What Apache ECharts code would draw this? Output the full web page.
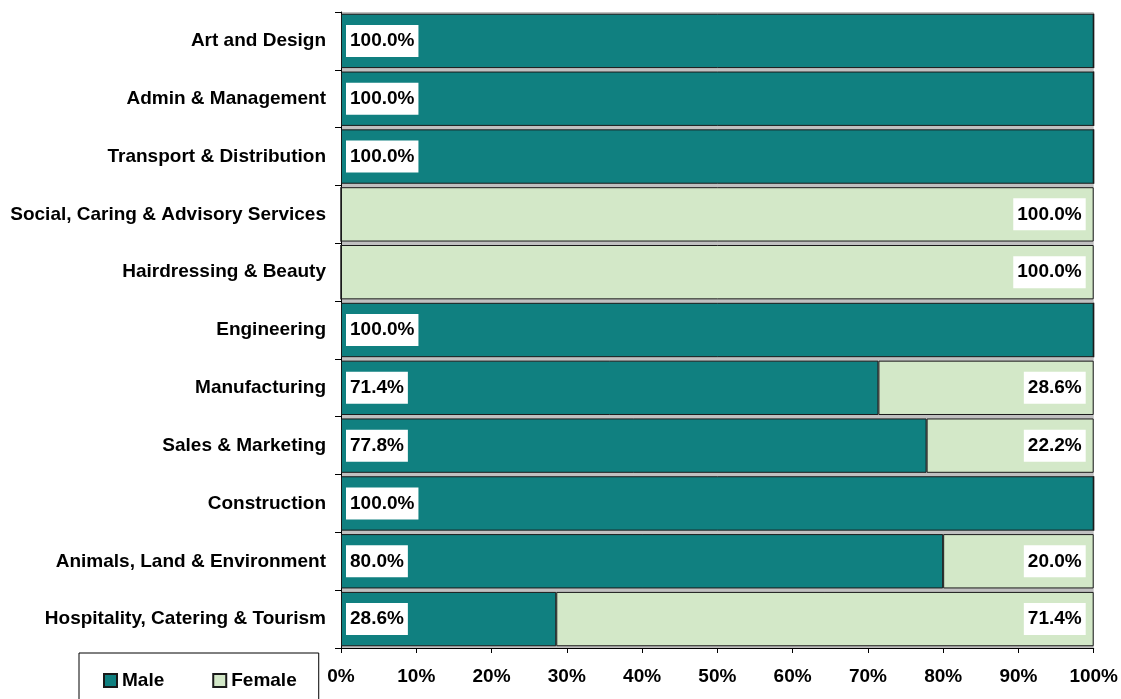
<!DOCTYPE html>
<html>
<head>
<meta charset="utf-8">
<script src="https://cdn.jsdelivr.net/npm/echarts@6/dist/echarts.min.js"></script>
<style>
  html, body { margin: 0; padding: 0; background: #fff; }
  #main { width: 1121px; height: 699px; }
</style>
</head>
<body>
<div id="main"></div>
<script>
// categories from top to bottom
var categories = ['Art and Design', 'Admin & Management', 'Transport & Distribution',
    'Social, Caring & Advisory Services', 'Hairdressing & Beauty', 'Engineering',
    'Manufacturing', 'Sales & Marketing', 'Construction',
    'Animals, Land & Environment', 'Hospitality, Catering & Tourism'];
var maleValues = [100, 100, 100, 0, 0, 100, 71.4, 77.8, 100, 80, 28.6];
var femaleValues = [0, 0, 0, 100, 100, 0, 28.6, 22.2, 0, 20, 71.4];
var xTicks = [0, 100, 10];

var font = 'Arial, "Liberation Sans", sans-serif';

function withLabels(values) {
    return values.map(function (v) {
        return { value: v, label: { show: v > 0 } };
    });
}

var labelStyle = {
    show: true,
    color: '#000',
    fontWeight: 'bold',
    fontSize: 19,
    fontFamily: font,
    backgroundColor: '#fff',
    padding: [6, 4, 5, 4],
    lineHeight: 21,
    formatter: function (p) { return p.value.toFixed(1) + '%'; }
};

var myChart = echarts.init(document.getElementById('main'));

var option = {
    animation: false,
    backgroundColor: '#fff',
    grid: {
        left: 341,
        right: 25,
        top: 12,
        bottom: 51,
        show: true,
        backgroundColor: '#c0c0c0',
        borderWidth: 0
    },
    legend: {
        left: 79,
        top: 653,
        padding: [18, 22, 30, 24],
        itemGap: 48,
        itemWidth: 13,
        itemHeight: 13,
        borderColor: '#000',
        borderWidth: 1,
        borderRadius: 0,
        icon: 'rect',
        textStyle: { color: '#000', fontWeight: 'bold', fontSize: 19, fontFamily: font },
        data: ['Male', 'Female']
    },
    xAxis: {
        type: 'value',
        min: xTicks[0],
        max: xTicks[1],
        interval: xTicks[2],
        splitLine: { show: false },
        axisLine: { show: true, lineStyle: { color: '#000', width: 1 } },
        axisTick: { show: true, length: 5, lineStyle: { color: '#000' } },
        axisLabel: {
            formatter: '{value}%',
            color: '#000',
            fontWeight: 'bold',
            fontSize: 19,
            fontFamily: font,
            margin: 19
        }
    },
    yAxis: {
        type: 'category',
        inverse: true,
        data: categories,
        axisLine: { show: true, lineStyle: { color: '#000', width: 1 } },
        axisTick: { show: true, length: 6, lineStyle: { color: '#000' } },
        axisLabel: {
            color: '#000',
            fontWeight: 'bold',
            fontSize: 19,
            fontFamily: font,
            margin: 15
        }
    },
    series: [
        {
            name: 'Male',
            type: 'bar',
            stack: 'total',
            barCategoryGap: '6%',
            itemStyle: { color: '#108080', borderColor: '#1a1a1a', borderWidth: 1 },
            label: Object.assign({}, labelStyle, { position: 'insideLeft', distance: 5 }),
            data: withLabels(maleValues)
        },
        {
            name: 'Female',
            type: 'bar',
            stack: 'total',
            barCategoryGap: '6%',
            itemStyle: { color: '#d3e8c8', borderColor: '#1a1a1a', borderWidth: 1 },
            label: Object.assign({}, labelStyle, { position: 'insideRight', distance: 8 }),
            data: withLabels(femaleValues)
        }
    ]
};

myChart.setOption(option);
</script>
</body>
</html>
